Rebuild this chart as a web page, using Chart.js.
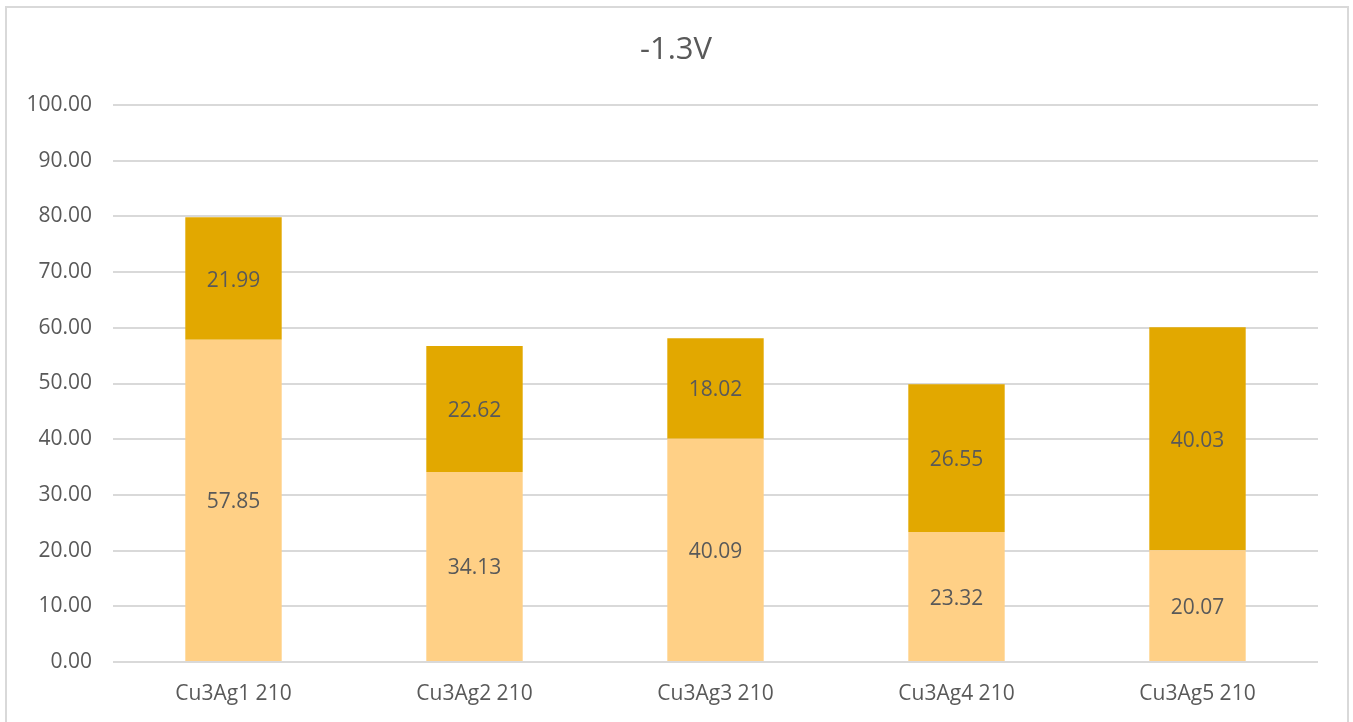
<!DOCTYPE html>
<html>
<head>
<meta charset="utf-8">
<script src="https://cdn.jsdelivr.net/npm/chart.js@4"></script>
<style>
  html, body { margin: 0; padding: 0; background: #fff; }
  #wrap { position: absolute; left: 0; top: 0; width: 1353px; height: 722px; }
</style>
</head>
<body>
<div id="wrap"><canvas id="grafico"></canvas></div>
<script>
// dados
const categorias = ['Cu3Ag1 210', 'Cu3Ag2 210', 'Cu3Ag3 210', 'Cu3Ag4 210', 'Cu3Ag5 210'];
const serieBaixo = [57.85, 34.13, 40.09, 23.32, 20.07];
const serieCima = [21.99, 22.62, 18.02, 26.55, 40.03];
const yTicks = [0, 10, 20, 30, 40, 50, 60, 70, 80, 90, 100];

const corTexto = '#595959';
const fonte = 'Open Sans';

// moldura + titulo
const molduraPlugin = {
    id: 'moldura',
    beforeDraw(chart) {
        const ctx = chart.ctx;
        ctx.save();
        ctx.fillStyle = '#ffffff';
        ctx.fillRect(0, 0, chart.width, chart.height);
        ctx.strokeStyle = '#d9d9d9';
        ctx.lineWidth = 2;
        ctx.strokeRect(6, 7, 1342, 740);
        ctx.restore();
    },
    afterDraw(chart) {
        const ctx = chart.ctx;
        ctx.save();
        ctx.fillStyle = corTexto;
        ctx.font = '31px "' + fonte + '"';
        ctx.textAlign = 'center';
        ctx.textBaseline = 'middle';
        ctx.fillText('-1.3V', 676, 50);
        ctx.restore();
    }
};

// rotulos dentro das barras
const rotulosPlugin = {
    id: 'rotulos',
    afterDatasetsDraw(chart) {
        const ctx = chart.ctx;
        ctx.save();
        ctx.fillStyle = corTexto;
        ctx.font = '21px "' + fonte + '"';
        ctx.textAlign = 'center';
        ctx.textBaseline = 'middle';
        chart.data.datasets.forEach((ds, i) => {
            chart.getDatasetMeta(i).data.forEach((bar, j) => {
                const p = bar.getProps(['x', 'y', 'base'], true);
                ctx.fillText(ds.data[j].toFixed(2), p.x, (p.y + p.base) / 2 + 2);
            });
        });
        ctx.restore();
    }
};

const config = {
    type: 'bar',
    data: {
        labels: categorias,
        datasets: [{
            label: 'baixo',
            data: serieBaixo,
            backgroundColor: '#FFD086',
            borderWidth: 0,
            barPercentage: 0.4,
            categoryPercentage: 1
        }, {
            label: 'cima',
            data: serieCima,
            backgroundColor: '#E2A800',
            borderWidth: 0,
            barPercentage: 0.4,
            categoryPercentage: 1
        }]
    },
    options: {
        responsive: true,
        maintainAspectRatio: false,
        animation: false,
        layout: { padding: { top: 105, right: 35, bottom: 0, left: 0 } },
        scales: {
            x: {
                stacked: true,
                grid: { display: false, drawTicks: false },
                border: { display: false },
                ticks: {
                    color: corTexto,
                    padding: 19,
                    font: { size: 21, family: fonte }
                },
                afterFit(scale) { scale.height = 60; }
            },
            y: {
                stacked: true,
                min: 0,
                max: 100,
                afterBuildTicks(scale) { scale.ticks = yTicks.map(v => ({ value: v })); },
                grid: { color: '#d9d9d9', lineWidth: 2, drawTicks: false },
                border: { display: false },
                ticks: {
                    color: corTexto,
                    padding: 21,
                    font: { size: 21, family: fonte },
                    callback: v => Number(v).toFixed(2)
                },
                afterFit(scale) { scale.width = 113; }
            }
        },
        plugins: {
            legend: { display: false },
            title: { display: false },
            tooltip: { enabled: false }
        }
    },
    plugins: [molduraPlugin, rotulosPlugin]
};

new Chart(document.getElementById('grafico'), config);
</script>
</body>
</html>
